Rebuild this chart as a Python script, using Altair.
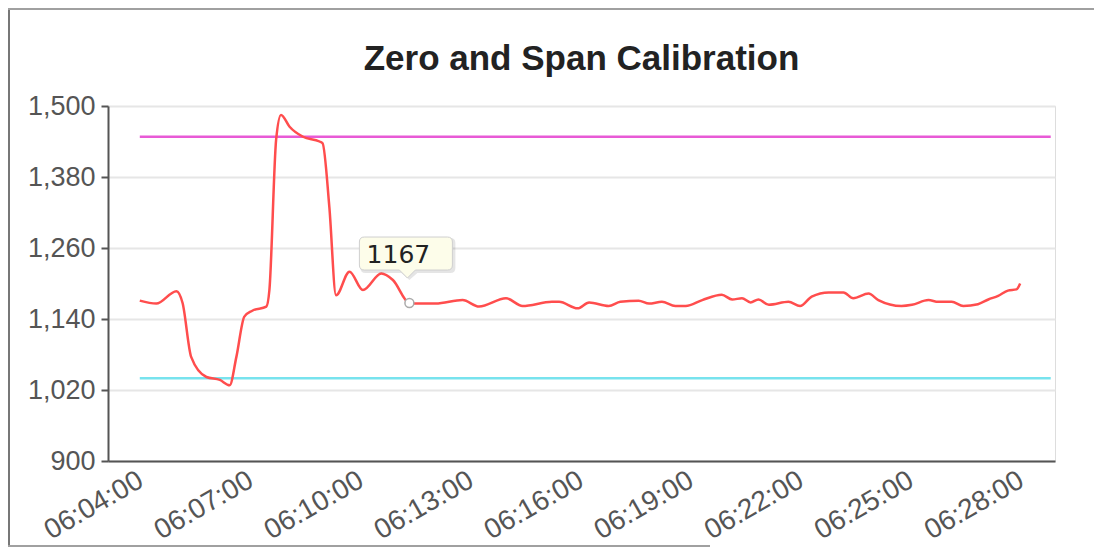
import altair as alt
import pandas as pd

# ---------------- data ----------------
title_text = "Zero and Span Calibration"

times = [
    "06:04:00", "06:04:27", "06:05:00", "06:05:10", "06:05:24", "06:05:49",
    "06:06:11", "06:06:27", "06:06:38", "06:06:51", "06:07:04", "06:07:27",
    "06:07:32", "06:07:43", "06:07:51", "06:08:05", "06:08:27", "06:08:54",
    "06:08:59", "06:09:10", "06:09:21", "06:09:43", "06:10:05", "06:10:35",
    "06:10:54", "06:11:21", "06:11:37", "06:12:04", "06:12:48", "06:13:15",
    "06:13:59", "06:14:26", "06:15:14", "06:15:26", "06:15:56", "06:16:15",
    "06:16:47", "06:17:06", "06:17:36", "06:17:53", "06:18:14", "06:18:36",
    "06:18:53", "06:19:20", "06:19:52", "06:20:09", "06:20:25", "06:20:39",
    "06:20:52", "06:21:09", "06:21:41", "06:22:00", "06:22:19", "06:22:47",
    "06:23:11", "06:23:27", "06:23:52", "06:24:08", "06:24:46", "06:25:03",
    "06:25:30", "06:25:46", "06:26:08", "06:26:27", "06:26:51", "06:27:08",
    "06:27:24", "06:27:40", "06:27:54", "06:28:00",
]
values = [
    1171, 1166, 1187, 1167, 1076, 1042,
    1037, 1028, 1076, 1144, 1154, 1161,
    1189, 1443, 1485, 1465, 1448, 1440,
    1437, 1330, 1180, 1220, 1189, 1217,
    1206, 1167, 1166, 1166, 1172, 1161,
    1175, 1162, 1169, 1169, 1158, 1168,
    1162, 1169, 1171, 1166, 1169, 1162,
    1162, 1172, 1181, 1173, 1175, 1168,
    1173, 1164, 1169, 1162, 1178, 1185,
    1185, 1175, 1183, 1172, 1162, 1164,
    1172, 1169, 1169, 1162, 1165, 1173,
    1179, 1188, 1190, 1200,
]

span_level = 1448
zero_level = 1040
ref_kinds = ["span", "zero"]
ref_colors = ["#e85ad6", "#78e3ee"]
ref_start = "06:04:00"
ref_end = "06:28:50"

tip_time = "06:11:21"
tip_value = 1167

x_ticks = ["06:04:00", "06:07:00", "06:10:00", "06:13:00", "06:16:00",
           "06:19:00", "06:22:00", "06:25:00", "06:28:00"]
x_domain = ["06:03:08", "06:28:57"]
y_ticks = [900, 1020, 1140, 1260, 1380, 1500]
y_domain = [900, 1500]

DAY = "2024-01-01T"


def dt(s):
    h, m, sec = (int(p) for p in s.split(":"))
    return alt.DateTime(year=2024, month=1, date=1, hours=h, minutes=m, seconds=sec)


series_df = pd.DataFrame({"t": [DAY + t for t in times], "v": values})
ref_df = pd.DataFrame({
    "t": [DAY + ref_start] * 2,
    "t2": [DAY + ref_end] * 2,
    "v": [span_level, zero_level],
    "kind": ref_kinds,
})
tip_df = pd.DataFrame({"t": [DAY + tip_time], "v": [tip_value], "label": [str(tip_value)]})
title_df = pd.DataFrame({"title": [title_text]})
one_df = pd.DataFrame({"a": [0]})

FONT = "Liberation Sans"
W, H = 947, 355
PAD = {"left": 100, "top": 98, "right": 39, "bottom": 87}

x_scale = alt.Scale(domain=[dt(s) for s in x_domain])
y_scale = alt.Scale(domain=y_domain, nice=False, zero=False)

x_axis = alt.Axis(
    values=[dt(s) for s in x_ticks], format="%H:%M:%S", title=None,
    labelAngle=-30, labelAlign="right", labelBaseline="top", labelPadding=5,
    labelOffset=-6,
    labelFont=FONT, labelFontSize=28, labelColor="#555", labelOverlap=False,
    labelFlush=False, ticks=False, grid=False, domainColor="#555", domainWidth=2,
)
y_axis = alt.Axis(
    values=y_ticks, format=",d", title=None,
    labelFont=FONT, labelFontSize=27, labelColor="#555", labelPadding=6,
    tickSize=7, tickColor="#555", tickWidth=2, domainColor="#555", domainWidth=2,
    grid=True, gridColor="#e6e6e6", gridWidth=2,
)

X = alt.X("t:T", scale=x_scale, axis=x_axis)
Y = alt.Y("v:Q", scale=y_scale, axis=y_axis)

refs = alt.Chart(ref_df).mark_rule(strokeWidth=2.5).encode(
    x=alt.X("t:T", scale=x_scale, axis=x_axis),
    x2="t2:T",
    y=Y,
    color=alt.Color("kind:N", scale=alt.Scale(domain=ref_kinds, range=ref_colors), legend=None),
)

line = alt.Chart(series_df).mark_line(
    color="#ff4d4d", strokeWidth=2.5, interpolate="monotone"
).encode(x=X, y=Y)

R = 66.0
def box_path(ox=0.0, oy=0.0, grow=0.0):
    l, r_, t, b = (-50 - grow) / R + ox, (43 + grow) / R + ox, (-66 - grow) / R + oy, (-33 + grow) / R + oy
    c = 5 / R
    pl, pr, tipx, tipy = -10 / R + ox, 6 / R + ox, -2 / R + ox, -25 / R + oy
    f = lambda v: f"{v:.4f}"
    return (f"M{f(l+c)},{f(t)} L{f(r_-c)},{f(t)} Q{f(r_)},{f(t)} {f(r_)},{f(t+c)} "
            f"L{f(r_)},{f(b-c)} Q{f(r_)},{f(b)} {f(r_-c)},{f(b)} "
            f"L{f(pr)},{f(b)} L{f(tipx)},{f(tipy)} L{f(pl)},{f(b)} "
            f"L{f(l+c)},{f(b)} Q{f(l)},{f(b)} {f(l)},{f(b-c)} "
            f"L{f(l)},{f(t+c)} Q{f(l)},{f(t)} {f(l+c)},{f(t)} Z")

SIZE = (2 * R) ** 2

tip_base = alt.Chart(tip_df)
tip_marker = tip_base.mark_point(
    shape="circle", size=80, filled=True, fill="white", stroke="#aaaaaa",
    strokeWidth=1.5, opacity=1,
).encode(x=X, y=Y)
tip_shadow = tip_base.mark_point(
    shape=box_path(2 / R, 2 / R, 1.0), size=SIZE, filled=True, color="#000000",
    opacity=0.10, strokeWidth=0,
).encode(x=X, y=Y)
tip_box = tip_base.mark_point(
    shape=box_path(), size=SIZE, filled=True, fill="#fdfdea", stroke="#cfcfcf",
    strokeWidth=1, opacity=1,
).encode(x=X, y=Y)
tip_text = tip_base.mark_text(
    font="DejaVu Sans", fontSize=25, color="#222222", align="center",
    baseline="middle", dx=-11, dy=-48,
).encode(x=X, y=Y, text="label:N")

title_mark = alt.Chart(title_df).mark_text(
    font=FONT, fontSize=35, fontWeight="bold", color="#222222",
    align="center", baseline="alphabetic",
).encode(x=alt.value(W / 2), y=alt.value(-36), text="title:N")

frame_left = alt.Chart(one_df).mark_rule(color="#777777", strokeWidth=2).encode(
    x=alt.value(-PAD["left"] + 1), y=alt.value(-PAD["top"]), y2=alt.value(H + PAD["bottom"] - 1)
)
frame_top = alt.Chart(one_df).mark_rule(color="#a0a0a0", strokeWidth=2).encode(
    x=alt.value(-PAD["left"]), x2=alt.value(W + PAD["right"]), y=alt.value(-PAD["top"] + 1)
)
frame_bottom = alt.Chart(one_df).mark_rule(color="#a0a0a0", strokeWidth=2).encode(
    x=alt.value(-PAD["left"]), x2=alt.value(702 - PAD["left"]), y=alt.value(H + PAD["bottom"] - 2)
)

chart = alt.layer(
    refs, line, tip_marker, tip_shadow, tip_box, tip_text, title_mark,
    frame_left, frame_top, frame_bottom,
).properties(
    width=W, height=H, padding=PAD, autosize=alt.AutoSizeParams(type="none"),
).configure_view(strokeWidth=0).configure(background="white")

chart.save("out.html", embed_options={"renderer": "svg", "actions": False})
